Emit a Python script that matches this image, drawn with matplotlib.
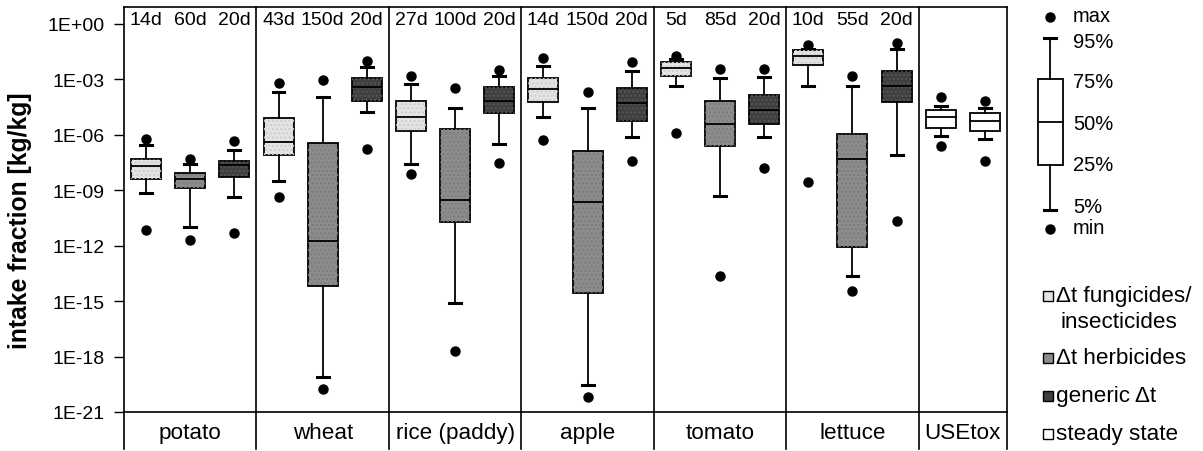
import numpy as np
import matplotlib
matplotlib.use("Agg")
import matplotlib.pyplot as plt
import matplotlib.transforms as mtransforms
from matplotlib.patches import Rectangle
from matplotlib.ticker import FixedLocator, FuncFormatter

plt.rcParams['font.family'] = ['Liberation Sans', 'DejaVu Sans']

# crops (panels) and the number of boxes in each
crops = ["potato", "wheat", "rice (paddy)", "apple", "tomato", "lettuce", "USEtox"]
n_boxes = [3, 3, 3, 3, 3, 3, 2]
durations = ["14d", "60d", "20d", "43d", "150d", "20d", "27d", "100d", "20d",
             "14d", "150d", "20d", "5d", "85d", "20d", "10d", "55d", "20d", "", ""]
# box kind: 0 fungicides/insecticides, 1 herbicides, 2 generic, 3 steady state
kinds = [0, 1, 2] * 6 + [3, 3]

# log10 of intake fraction statistics, one entry per box
p_max = [-6.22, -7.31, -6.31, -3.19, -3.01, -1.98, -2.83, -3.46, -2.49,
         -1.86, -3.70, -2.07, -1.71, -2.44, -2.44, -1.14, -2.80, -1.05, -3.93, -4.18]
p95 = [-6.55, -7.58, -6.80, -3.70, -3.95, -2.31, -3.26, -4.55, -2.80,
       -2.26, -4.55, -2.53, -1.89, -2.94, -2.85, -1.35, -3.37, -1.35, -4.45, -4.56]
p75 = [-7.31, -8.06, -7.40, -5.09, -6.46, -2.92, -4.15, -5.68, -3.43,
       -2.90, -6.89, -3.48, -2.04, -4.19, -3.84, -1.39, -5.95, -2.56, -4.65, -4.83]
p50 = [-7.67, -8.39, -7.63, -6.37, -11.76, -3.43, -5.05, -9.51, -4.15,
       -3.52, -9.61, -4.27, -2.40, -5.43, -4.65, -1.75, -7.31, -3.34, -5.05, -5.27]
p25 = [-8.39, -8.89, -8.30, -7.09, -14.19, -4.15, -5.77, -10.73, -4.83,
       -4.24, -14.56, -5.27, -2.83, -6.62, -5.43, -2.22, -12.08, -4.24, -5.65, -5.77]
p05 = [-9.16, -10.97, -9.34, -8.50, -19.08, -4.78, -7.58, -15.10, -6.49,
       -5.05, -19.52, -6.13, -3.37, -9.29, -6.13, -3.37, -13.65, -7.07, -6.04, -6.22]
p_min = [-11.15, -11.67, -11.33, -9.38, -19.75, -6.76, -8.12, -17.68, -7.52,
         -6.26, -20.20, -7.43, -5.92, -13.62, -7.79, -8.53, -14.43, -10.64, -6.58, -7.43]

fills = ["#e4e4e4", "#8c8c8c", "#3f3f3f", "#ffffff"]
hatch_cols = ["#cdcdcd", "#7c7c7c", "#555555", None]
legend_labels = ["\u0394t fungicides/", "\u0394t herbicides", "generic \u0394t", "steady state"]

fig = plt.figure(figsize=(12.03, 4.52), dpi=100)
ax = fig.add_axes([124 / 1203, 1 - 413 / 452, 883 / 1203, 405 / 452])

# x positions: each panel is 3 units wide (USEtox 2)
positions = []
start = 0
edges = [0]
for n in n_boxes:
    positions += [start + 0.5 + k for k in range(n)]
    start += n
    edges.append(start)

stats = []
for i in range(len(positions)):
    stats.append(dict(med=10 ** p50[i], q1=10 ** p25[i], q3=10 ** p75[i],
                      whislo=10 ** p05[i], whishi=10 ** p95[i],
                      fliers=[10 ** p_min[i], 10 ** p_max[i]]))

bp = ax.bxp(stats, positions=positions, widths=0.68, patch_artist=True,
            showfliers=True, capwidths=0.27,
            boxprops=dict(edgecolor="black", linewidth=1.3),
            medianprops=dict(color="black", linewidth=1.3),
            whiskerprops=dict(color="black", linewidth=1.3),
            capprops=dict(color="black", linewidth=2.2),
            flierprops=dict(marker="o", markerfacecolor="black",
                            markeredgecolor="black", markersize=6.5))
for i, box in enumerate(bp["boxes"]):
    box.set_facecolor(fills[kinds[i]])
    box.set_zorder(2)
    hc = hatch_cols[kinds[i]]
    if hc is not None:
        # faint dotted texture inside the box
        ax.add_patch(Rectangle((positions[i] - 0.34, 10 ** p25[i]), 0.68,
                               10 ** p75[i] - 10 ** p25[i], fill=False,
                               edgecolor=hc, linewidth=0, hatch="....", zorder=2.1))
for line in bp["medians"]:
    line.set_zorder(3)

ax.set_yscale("log")
ax.set_ylim(1e-21, 10 ** 0.92)
ax.set_xlim(0, edges[-1])
ax.yaxis.set_major_locator(FixedLocator([10.0 ** e for e in range(-21, 1, 3)]))
ax.yaxis.set_minor_locator(FixedLocator([]))
ax.yaxis.set_major_formatter(FuncFormatter(
    lambda v, p: "1E+00" if round(np.log10(v)) == 0 else "1E-%02d" % -round(np.log10(v))))
ax.tick_params(axis="y", direction="out", length=7, width=1, labelsize=14, pad=7)
ax.set_xticks([])
for s in ax.spines.values():
    s.set_linewidth(1.2)
ax.spines["left"].set_visible(False)
ax.spines["right"].set_visible(False)

ax.set_ylabel("intake fraction [kg/kg]", fontsize=17.8, fontweight="bold")
ax.yaxis.set_label_coords(-0.104, 0.475)

trans = mtransforms.blended_transform_factory(ax.transData, ax.transAxes)
# panel separators, extended down through the category row
for xe in edges:
    ax.plot([xe, xe], [1, -0.091], color="black", lw=1.2, transform=trans,
            clip_on=False, zorder=5)

for i, d in enumerate(durations):
    if d:
        ax.text(positions[i], 0.97, d, transform=trans, ha="center", va="center",
                fontsize=14)
for j, c in enumerate(crops):
    ax.text((edges[j] + edges[j + 1]) / 2, -0.05, c, transform=trans,
            ha="center", va="center", fontsize=16.2)

# key on the right, drawn in pixel coordinates
ov = fig.add_axes([0, 0, 1, 1], zorder=10)
ov.set_xlim(0, 1203)
ov.set_ylim(452, 0)
ov.axis("off")

kx = 1050
key_y = dict(max=18, p95=39, p75=80, p50=123, p25=166, p05=211, min=230)
ov.plot([kx, kx], [key_y["p95"], key_y["p75"]], color="black", lw=1.3)
ov.plot([kx, kx], [key_y["p25"], key_y["p05"]], color="black", lw=1.3)
ov.plot([kx - 6, kx + 6], [key_y["p95"]] * 2, color="black", lw=2.2)
ov.plot([kx - 6, kx + 6], [key_y["p05"]] * 2, color="black", lw=2.2)
ov.add_patch(Rectangle((kx - 12.5, key_y["p75"]), 25, key_y["p25"] - key_y["p75"],
                       facecolor="white", edgecolor="black", lw=1.3))
ov.plot([kx - 12.5, kx + 12.5], [key_y["p50"]] * 2, color="black", lw=1.3)
ov.plot([kx, kx], [key_y["max"], key_y["min"]], "o", color="black", markersize=6.5,
        linestyle="none")
key_text = [("max", 16), ("95%", 42), ("75%", 82), ("50%", 124), ("25%", 166),
            ("5%", 208), ("min", 229)]
for t, y in key_text:
    ov.text(1073, y, t, fontsize=14.5, va="center", ha="left")

leg_y = [297, 359, 397, 435]
for k in range(4):
    ov.add_patch(Rectangle((1043, leg_y[k] - 5), 10, 10, facecolor=fills[k],
                           edgecolor="black", lw=1.0))
    ov.text(1056, leg_y[k], legend_labels[k], fontsize=16.2, va="center")
ov.text(1061, 323, "insecticides", fontsize=16.2, va="center")

fig.savefig("out.png", dpi=100)
